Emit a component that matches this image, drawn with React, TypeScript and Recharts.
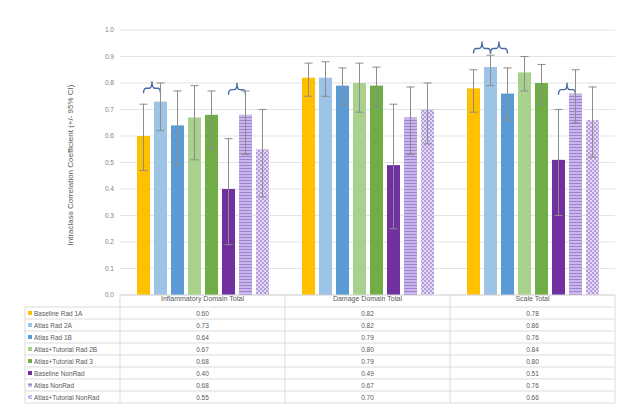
import React from "react";
import { Bar, CartesianGrid, ComposedChart, ErrorBar, XAxis, YAxis } from "recharts";

const categories = ["Inflammatory Domain Total", "Damage Domain Total", "Scale Total"];

const seriesNames = [
  "Baseline Rad 1A",
  "Atlas Rad 2A",
  "Atlas Rad 1B",
  "Atlas+Tutorial Rad 2B",
  "Atlas+Tutorial Rad 3",
  "Baseline NonRad",
  "Atlas NonRad",
  "Atlas+Tutorial NonRad",
];

// ICC per series, one value per category
const iccValues = [
  [0.6, 0.82, 0.78],
  [0.73, 0.82, 0.86],
  [0.64, 0.79, 0.76],
  [0.67, 0.8, 0.84],
  [0.68, 0.79, 0.8],
  [0.4, 0.49, 0.51],
  [0.68, 0.67, 0.76],
  [0.55, 0.7, 0.66],
];

// 95% CI bounds
const ciLower = [
  [0.47, 0.75, 0.69],
  [0.62, 0.75, 0.79],
  [0.49, 0.72, 0.66],
  [0.51, 0.69, 0.77],
  [0.55, 0.71, 0.72],
  [0.19, 0.25, 0.3],
  [0.53, 0.53, 0.65],
  [0.37, 0.57, 0.52],
];
const ciUpper = [
  [0.72, 0.875, 0.85],
  [0.8, 0.88, 0.905],
  [0.77, 0.857, 0.857],
  [0.79, 0.875, 0.9],
  [0.77, 0.86, 0.87],
  [0.59, 0.72, 0.7],
  [0.77, 0.785, 0.85],
  [0.7, 0.8, 0.785],
];

// significance braces: category index, series from -> to, height
const braces = [
  { cat: 0, from: 0, to: 1, level: 0.78 },
  { cat: 0, from: 5, to: 6, level: 0.775 },
  { cat: 2, from: 0, to: 1, level: 0.93 },
  { cat: 2, from: 1, to: 2, level: 0.93 },
  { cat: 2, from: 5, to: 6, level: 0.775 },
];

const yTicks = [0, 0.1, 0.2, 0.3, 0.4, 0.5, 0.6, 0.7, 0.8, 0.9, 1.0];

const fills = [
  "#FFC000",
  "#9DC3E6",
  "#5B9BD5",
  "#A9D18E",
  "#70AD47",
  "#7030A0",
  "url(#hatchLav)",
  "url(#checkLav)",
];

const BAR = 13;
const GAP = 4;
const FONT = "'Liberation Sans', Arial, sans-serif";

const rows = categories.map((category, c) => {
  const row: Record<string, any> = { category };
  iccValues.forEach((vals, k) => {
    row[`s${k}`] = vals[c];
    row[`e${k}`] = [vals[c] - ciLower[k][c], ciUpper[k][c] - vals[c]];
  });
  return row;
});

function Brace({ x1, x2, y }: { x1: number; x2: number; y: number }) {
  const cx = (x1 + x2) / 2;
  const d = `M${x1},${y + 5} Q${x1},${y} ${x1 + 3},${y} L${cx - 3},${y} Q${cx},${y} ${cx},${y - 7} Q${cx},${y} ${cx + 3},${y} L${x2 - 3},${y} Q${x2},${y} ${x2},${y + 5}`;
  return <path d={d} fill="none" stroke="#4a6aa5" strokeWidth={1.4} />;
}

function makeShape(k: number) {
  return (props: any) => {
    const { x, y, width, height, index, payload } = props;
    const v = payload[`s${k}`];
    const base = y + height;
    const ppu = height / v;
    const mine = braces.filter((b) => b.from === k && b.cat === index);
    return (
      <g>
        <rect x={x} y={y} width={width} height={height} fill={fills[k]} />
        {mine.map((b, i) => {
          const x1 = x + width / 2;
          const x2 = x1 + (b.to - b.from) * (BAR + GAP);
          return <Brace key={i} x1={x1} x2={x2} y={base - b.level * ppu} />;
        })}
      </g>
    );
  };
}

function Swatch({ k, x, y }: { k: number; x: number; y: number }) {
  return <rect x={x} y={y} width={4} height={4} fill={fills[k]} />;
}

export default function App() {
  const colEdges = [120, 285, 450, 615];
  const tableTop = 307;
  const rowH = 12;
  return (
    <div style={{ position: "absolute", left: 0, top: 0, width: 625, height: 408, background: "#fff", fontFamily: FONT }}>
      <ComposedChart
        width={625}
        height={305}
        data={rows}
        margin={{ top: 30, right: 10, left: 0, bottom: 0 }}
        barGap={GAP}
        barCategoryGap={16}
      >
        <defs>
          <pattern id="hatchLav" width="4" height="3" patternUnits="userSpaceOnUse">
            <rect width="4" height="3" fill="#c9b6ea" />
            <rect y="0" width="4" height="1" fill="#9f82d4" />
          </pattern>
          <pattern id="checkLav" width="4" height="4" patternUnits="userSpaceOnUse">
            <rect width="4" height="4" fill="#e4d9f4" />
            <rect width="2" height="2" fill="#b49ddd" />
            <rect x="2" y="2" width="2" height="2" fill="#b49ddd" />
          </pattern>
        </defs>
        <CartesianGrid vertical={false} stroke="#e3e3e3" />
        <XAxis
          dataKey="category"
          height={10}
          interval={0}
          tickLine={false}
          tickSize={0}
          tickMargin={1}
          axisLine={{ stroke: "#d9d9d9" }}
          tick={{ fontSize: 7, fill: "#595959", fontFamily: FONT }}
        />
        <YAxis
          width={120}
          domain={[0, 1]}
          ticks={yTicks}
          tickFormatter={(v: number) => v.toFixed(1)}
          axisLine={false}
          tickLine={false}
          tickSize={0}
          tickMargin={6}
          tick={{ fontSize: 6.5, fill: "#7f7f7f", fontFamily: FONT }}
        />
        {seriesNames.map((name, k) => (
          <Bar
            key={name}
            name={name}
            dataKey={`s${k}`}
            barSize={BAR}
            fill={fills[k]}
            shape={makeShape(k)}
            isAnimationActive={false}
          >
            <ErrorBar dataKey={`e${k}`} width={4} stroke="#8c8c8c" strokeWidth={1} direction="y" isAnimationActive={false} />
          </Bar>
        ))}
      </ComposedChart>

      <svg width={625} height={408} style={{ position: "absolute", left: 0, top: 0, pointerEvents: "none" }}>
        <defs>
          <pattern id="hatchLavT" width="4" height="3" patternUnits="userSpaceOnUse">
            <rect width="4" height="3" fill="#c9b6ea" />
            <rect width="4" height="1" fill="#9f82d4" />
          </pattern>
        </defs>
        <text
          x={73}
          y={165}
          transform="rotate(-90 73 165)"
          textAnchor="middle"
          fontSize={8}
          fill="#595959"
          fontFamily={FONT}
        >
          Intraclass Correlation Coefficient (+/- 95% CI)
        </text>

        {seriesNames.map((_, r) => (
          <line key={`h${r}`} x1={25} x2={615} y1={tableTop + r * rowH} y2={tableTop + r * rowH} stroke="#dcdcdc" />
        ))}
        <line x1={25} x2={615} y1={tableTop + 8 * rowH} y2={tableTop + 8 * rowH} stroke="#dcdcdc" />
        <line x1={25} x2={25} y1={tableTop} y2={tableTop + 8 * rowH} stroke="#dcdcdc" />
        {colEdges.map((x) => (
          <line key={`v${x}`} x1={x} x2={x} y1={295} y2={tableTop + 8 * rowH} stroke="#dcdcdc" />
        ))}

        {seriesNames.map((name, r) => {
          const cy = tableTop + r * rowH + rowH / 2;
          return (
            <g key={name}>
              <Swatch k={r} x={28} y={cy - 2} />
              <text x={34} y={cy} dominantBaseline="central" fontSize={6.5} fill="#595959" fontFamily={FONT}>
                {name}
              </text>
              {categories.map((c, ci) => (
                <text
                  key={c}
                  x={(colEdges[ci] + colEdges[ci + 1]) / 2}
                  y={cy}
                  textAnchor="middle"
                  dominantBaseline="central"
                  fontSize={6.5}
                  fill="#595959"
                  fontFamily={FONT}
                >
                  {iccValues[r][ci].toFixed(2)}
                </text>
              ))}
            </g>
          );
        })}
      </svg>
    </div>
  );
}
